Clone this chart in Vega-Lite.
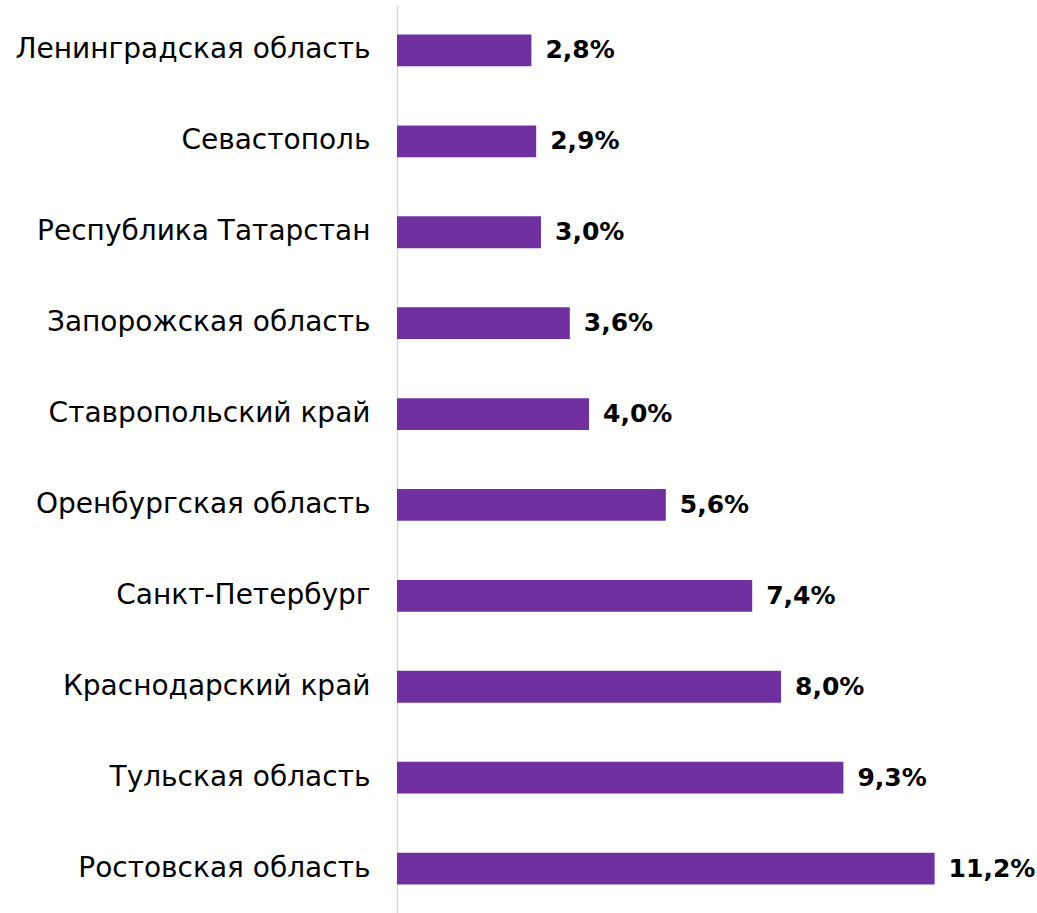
{
  "$schema": "https://vega.github.io/schema/vega-lite/v6.json",
  "width": 640,
  "height": 909,
  "autosize": {"type": "none"},
  "padding": {"left": 397, "top": 5, "right": 0, "bottom": 0},
  "background": "white",
  "config": {"view": {"stroke": null}, "font": "DejaVu Sans"},
  "data": {"values": [
    {"region": "Ленинградская область", "value": 2.8, "label": "2,8%"},
    {"region": "Севастополь", "value": 2.9, "label": "2,9%"},
    {"region": "Республика Татарстан", "value": 3.0, "label": "3,0%"},
    {"region": "Запорожская область", "value": 3.6, "label": "3,6%"},
    {"region": "Ставропольский край", "value": 4.0, "label": "4,0%"},
    {"region": "Оренбургская область", "value": 5.6, "label": "5,6%"},
    {"region": "Санкт-Петербург", "value": 7.4, "label": "7,4%"},
    {"region": "Краснодарский край", "value": 8.0, "label": "8,0%"},
    {"region": "Тульская область", "value": 9.3, "label": "9,3%"},
    {"region": "Ростовская область", "value": 11.2, "label": "11,2%"}
  ]},
  "encoding": {
    "y": {
      "field": "region", "type": "nominal", "sort": null,
      "scale": {"paddingInner": 0.65, "paddingOuter": 0.325},
      "axis": {
        "title": null, "ticks": false, "labelPadding": 27, "labelFontSize": 28,
        "labelColor": "#000000", "labelFont": "DejaVu Sans", "labelLimit": 400,
        "domainColor": "#d9d9d9", "domainWidth": 1.5
      }
    },
    "x": {
      "field": "value", "type": "quantitative",
      "scale": {"domain": [0, 13.333], "nice": false, "zero": true},
      "axis": null
    }
  },
  "layer": [
    {"mark": {"type": "bar", "color": "#7030A0"}},
    {
      "mark": {"type": "text", "align": "left", "baseline": "middle", "dx": 14, "fontSize": 25, "fontWeight": "bold", "color": "#000000", "font": "DejaVu Sans"},
      "encoding": {"text": {"field": "label"}}
    }
  ]
}
